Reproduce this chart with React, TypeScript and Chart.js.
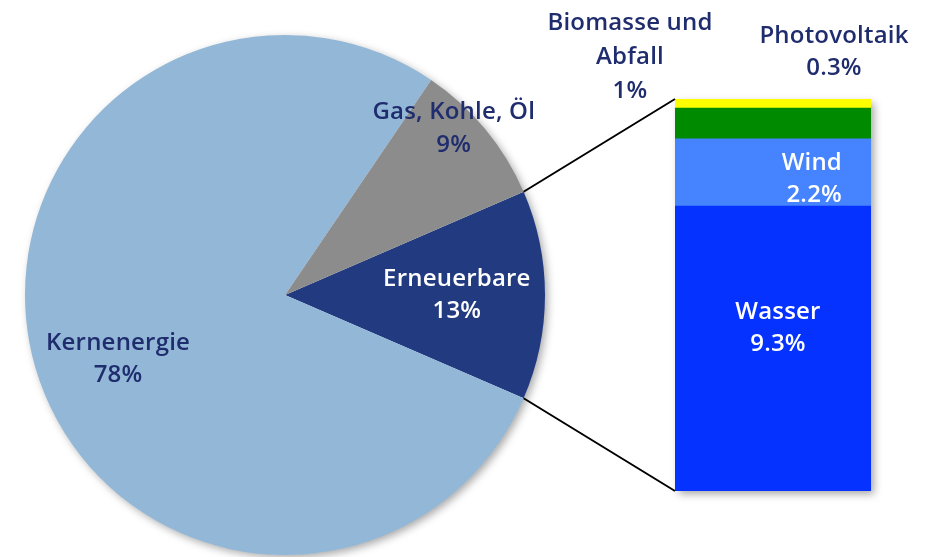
import React, { useEffect, useRef } from "react";
import { Chart, registerables } from "chart.js";

Chart.register(...registerables);

// ---- data ----
const pieCategories = ["Erneuerbare", "Kernenergie", "Gas, Kohle, Öl"];
const pieValues = [13, 78, 9];
const pieValueLabels = ["13%", "78%", "9%"];

const barCategories = ["Wasser", "Wind", "Biomasse und\nAbfall", "Photovoltaik"];
const barValues = [9.3, 2.2, 1, 0.3];
const barValueLabels = ["9.3%", "2.2%", "1%", "0.3%"];

// ---- styles ----
const pieColors = ["#213a80", "#93b7d7", "#8c8c8c"];
const barColors = ["#0532ff", "#4583ff", "#008a00", "#ffff00"];
const NAVY = "#1f2d6e";
const FONT = '600 24px "Open Sans", "Noto Sans", sans-serif';
const LETTER = "0.2px";

// label placement: pie labels as fraction of radius from pie centre (first baseline)
const pieLabelPlace = [
  { fx: 0.661, fy: -0.036, color: "#ffffff", lh: 32 },
  { fx: -0.642, fy: 0.213, color: NAVY, lh: 32 },
  { fx: 0.649, fy: -0.677, color: NAVY, lh: 33 },
];
// bar labels: offsets from bar element edges
const barLabelPlace = [
  { ref: "center", dx: 5, dy: -30, align: "center", color: "#ffffff", lh: 32 },
  { ref: "right", dx: -29, dy: -3, align: "right", color: "#ffffff", lh: 32 },
  { ref: "topleft", dx: -45, dy: -69, align: "center", color: NAVY, lh: 34 },
  { ref: "topright", dx: -37, dy: -56, align: "center", color: NAVY, lh: 32 },
];

function drawLines(
  ctx: CanvasRenderingContext2D,
  lines: string[],
  x: number,
  y: number,
  lh: number,
  align: CanvasTextAlign,
  color: string
) {
  ctx.save();
  ctx.font = FONT;
  (ctx as any).letterSpacing = LETTER;
  ctx.fillStyle = color;
  ctx.textAlign = align;
  ctx.textBaseline = "alphabetic";
  lines.forEach((l, i) => ctx.fillText(l, x, y + i * lh));
  ctx.restore();
}

export default function App() {
  const pieRef = useRef<HTMLCanvasElement | null>(null);
  const barRef = useRef<HTMLCanvasElement | null>(null);

  useEffect(() => {
    if (!pieRef.current || !barRef.current) return;
    const pieTotal = pieValues.reduce((a, b) => a + b, 0);
    const barTotal = barValues.reduce((a, b) => a + b, 0);

    const pieDecor = {
      id: "pieDecor",
      beforeDatasetsDraw(chart: any) {
        const arc = chart.getDatasetMeta(0).data[0];
        if (!arc) return;
        const ctx = chart.ctx;
        ctx.save();
        ctx.shadowColor = "rgba(0,0,0,0.35)";
        ctx.shadowBlur = 8;
        ctx.shadowOffsetX = 3;
        ctx.shadowOffsetY = 3;
        ctx.fillStyle = "#ffffff";
        ctx.beginPath();
        ctx.arc(arc.x, arc.y, arc.outerRadius - 0.5, 0, Math.PI * 2);
        ctx.fill();
        ctx.restore();
      },
      afterDatasetsDraw(chart: any) {
        const meta = chart.getDatasetMeta(0);
        const ctx = chart.ctx;
        meta.data.forEach((arc: any, i: number) => {
          const p = pieLabelPlace[i];
          const x = arc.x + p.fx * arc.outerRadius;
          const y = arc.y + p.fy * arc.outerRadius;
          drawLines(ctx, [pieCategories[i], pieValueLabels[i]], x, y, p.lh, "center", p.color);
        });
      },
    };

    const pie = new Chart(pieRef.current, {
      type: "pie",
      data: {
        labels: pieCategories,
        datasets: [
          {
            data: pieValues,
            backgroundColor: pieColors,
            borderWidth: 0,
            hoverOffset: 0,
            offset: 0,
          },
        ],
      },
      options: {
        responsive: false,
        animation: false,
        rotation: 90 - (pieValues[0] / pieTotal) * 180,
        layout: { padding: { left: 25, right: 383, top: 35, bottom: 2 } },
        plugins: { legend: { display: false }, tooltip: { enabled: false } },
        events: [],
      },
      plugins: [pieDecor],
    } as any);

    const barDecor = {
      id: "barDecor",
      beforeDatasetsDraw(chart: any) {
        const first = chart.getDatasetMeta(0).data[0];
        const last = chart.getDatasetMeta(barValues.length - 1).data[0];
        if (!first || !last) return;
        const ctx = chart.ctx;
        const left = first.x - first.width / 2;
        const top = last.y;
        const bottom = first.base;
        ctx.save();
        ctx.shadowColor = "rgba(0,0,0,0.35)";
        ctx.shadowBlur = 8;
        ctx.shadowOffsetX = 3;
        ctx.shadowOffsetY = 3;
        ctx.fillStyle = "#ffffff";
        ctx.fillRect(left + 0.5, top + 0.5, first.width - 1, bottom - top - 1);
        ctx.restore();
      },
      afterDatasetsDraw(chart: any) {
        const ctx = chart.ctx;
        const first = chart.getDatasetMeta(0).data[0];
        const last = chart.getDatasetMeta(barValues.length - 1).data[0];
        const left = first.x - first.width / 2;
        const right = first.x + first.width / 2;
        const top = last.y;
        const bottom = first.base;

        // connector lines from pie slice
        const arc = pie.getDatasetMeta(0).data[0] as any;
        if (arc) {
          const r = arc.outerRadius;
          const p1 = { x: arc.x + r * Math.cos(arc.startAngle), y: arc.y + r * Math.sin(arc.startAngle) };
          const p2 = { x: arc.x + r * Math.cos(arc.endAngle), y: arc.y + r * Math.sin(arc.endAngle) };
          ctx.save();
          ctx.strokeStyle = "#000000";
          ctx.lineWidth = 2;
          ctx.beginPath();
          ctx.moveTo(p1.x, p1.y);
          ctx.lineTo(left, top);
          ctx.moveTo(p2.x, p2.y);
          ctx.lineTo(left, bottom);
          ctx.stroke();
          ctx.restore();
        }

        barValues.forEach((_, i) => {
          const el = chart.getDatasetMeta(i).data[0];
          const p = barLabelPlace[i];
          let x = 0;
          let y = 0;
          if (p.ref === "center") {
            x = el.x;
            y = (el.y + el.base) / 2;
          } else if (p.ref === "right") {
            x = right;
            y = (el.y + el.base) / 2;
          } else if (p.ref === "topleft") {
            x = left;
            y = top;
          } else {
            x = right;
            y = top;
          }
          const lines = [...barCategories[i].split("\n"), barValueLabels[i]];
          drawLines(ctx, lines, x + p.dx, y + p.dy, p.lh, p.align as CanvasTextAlign, p.color);
        });
      },
    };

    const bar = new Chart(barRef.current, {
      type: "bar",
      data: {
        labels: ["Erneuerbare"],
        datasets: barCategories.map((c, i) => ({
          label: c,
          data: [barValues[i]],
          backgroundColor: barColors[i],
          borderWidth: 0,
          barPercentage: 1,
          categoryPercentage: 1,
        })),
      },
      options: {
        responsive: false,
        animation: false,
        layout: { padding: { left: 675, right: 57, top: 99, bottom: 66 } },
        scales: {
          x: { stacked: true, display: false },
          y: { stacked: true, display: false, min: 0, max: barTotal },
        },
        plugins: { legend: { display: false }, tooltip: { enabled: false } },
        events: [],
      },
      plugins: [barDecor],
    } as any);

    return () => {
      bar.destroy();
      pie.destroy();
    };
  }, []);

  const canvasStyle: React.CSSProperties = {
    position: "absolute",
    left: 0,
    top: 0,
    width: 928,
    height: 557,
  };

  return (
    <div style={{ position: "absolute", left: 0, top: 0, width: 928, height: 557, background: "#ffffff" }}>
      <canvas ref={pieRef} width={928} height={557} style={canvasStyle} />
      <canvas ref={barRef} width={928} height={557} style={canvasStyle} />
    </div>
  );
}
